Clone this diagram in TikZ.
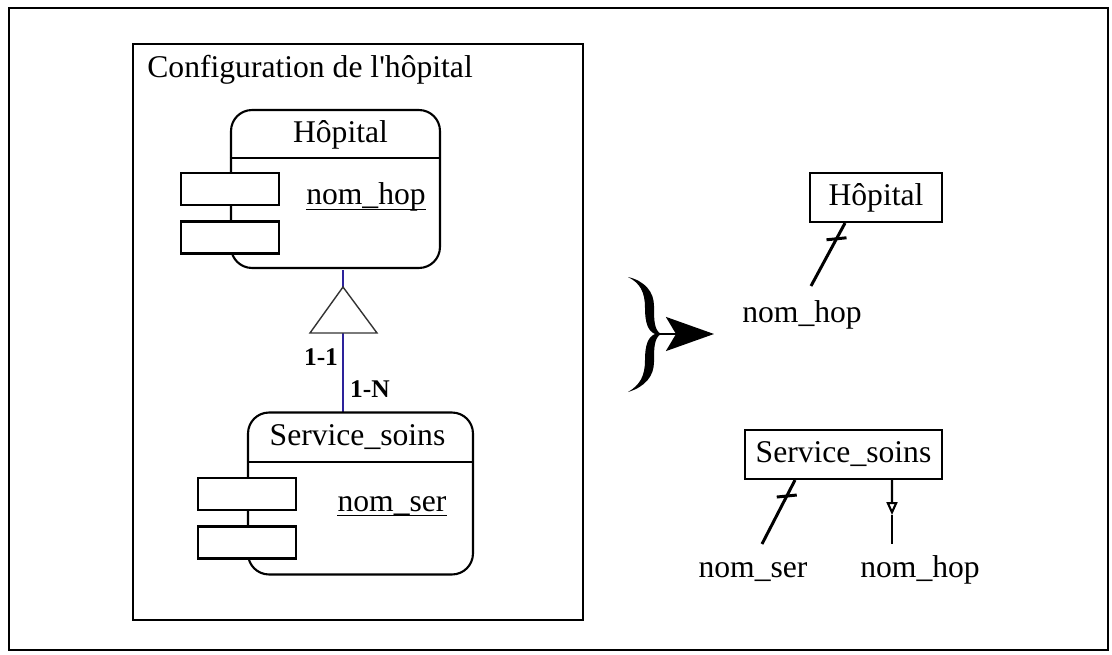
\documentclass[tikz,border=0pt]{standalone}
\usepackage{fontspec}
\setmainfont{Liberation Serif}
\usepackage{xcolor}
\usetikzlibrary{arrows.meta,calc}
\definecolor{linkblue}{RGB}{45,35,155}
\tikzset{
    frame/.style={draw=black, line width=1.3pt},
    entity/.style={rectangle, rounded corners=0.42cm, draw=black, line width=1.2pt, fill=white},
    attrbox/.style={rectangle, draw=black, line width=1.2pt, fill=white, minimum width=1.96cm, minimum height=0.64cm},
    tablebox/.style={rectangle, draw=black, line width=1.2pt, font=\fontsize{18}{20}\selectfont, inner sep=0pt},
    keyline/.style={line width=1.7pt},
    fkline/.style={line width=1.2pt},
    mylabel/.style={font=\fontsize{18}{20}\selectfont, inner sep=0pt},
    card/.style={font=\fontsize{14.5}{16}\selectfont\bfseries, inner sep=0pt}
}

\begin{document}
\begin{tikzpicture}[x=0.02cm, y=-0.02cm]
    \useasboundingbox (0,0) rectangle (1112,655);
    \draw[frame] (9,8) rectangle (1108,650);

    % configuration (left)
    \node[frame, minimum width=9cm, minimum height=11.52cm] (config) at (358,332) {};
    \node[mylabel, anchor=base west] (configtitle) at (147,78) {Configuration de l\textquotesingle hôpital};

    \draw[linkblue, line width=1.2pt] (343,270) coordinate (linktop) -- (343,412) coordinate (linkbot);

    \node[entity, minimum width=4.18cm, minimum height=3.16cm] (hop) at (335.5,189) {};
    \node[mylabel, anchor=base] (hoptitle) at (340.5,143) {Hôpital};
    \draw[line width=1.2pt] (hop.west |- 0,158) -- (hop.east |- 0,158);
    \node[attrbox] (hopa1) at (hop.west |- 0,189) {};
    \node[attrbox] (hopa2) at (hop.west |- 0,237.5) {};
    \node[mylabel, anchor=base] (hopid) at (366,205) {nom\_hop};
    \draw[line width=0.8pt] ([yshift=-2.4pt]hopid.base west) -- ([yshift=-2.4pt]hopid.base east);

    \node[entity, minimum width=4.5cm, minimum height=3.24cm] (ser) at (360.5,493.5) {};
    \node[mylabel, anchor=base] (sertitle) at (357.5,445) {Service\_soins};
    \draw[line width=1.2pt] (ser.west |- 0,462) -- (ser.east |- 0,462);
    \node[attrbox] (sera1) at (ser.west |- 0,494) {};
    \node[attrbox] (sera2) at (ser.west |- 0,542.5) {};
    \node[mylabel, anchor=base] (serid) at (392,511) {nom\_ser};
    \draw[line width=0.8pt] ([yshift=-2.4pt]serid.base west) -- ([yshift=-2.4pt]serid.base east);

    \draw[draw=black!80, line width=0.8pt, fill=white] (343,287) -- (377,333) -- (310,333) -- cycle;
    \node[card] (c11) at (321,357) {1-1};
    \node[card] (c1n) at (370,389) {1-N};

    % brace and arrow
    \fill (628,277) .. controls (645,281) and (654,292) .. (654,306)
        .. controls (654,320) and (654,330) .. (661,334)
        .. controls (654,338) and (654,348) .. (654,362)
        .. controls (654,376) and (645,387) .. (628,392)
        .. controls (640,385) and (645,376) .. (645,360)
        .. controls (645,345) and (648,337) .. (655,334)
        .. controls (648,331) and (645,323) .. (645,308)
        .. controls (645,292) and (640,283) .. (628,277) -- cycle;
    \coordinate (bracemid) at (656,334);
    \coordinate (arrowtip) at (714,334);
    \draw[line width=1.6pt, -{Stealth[length=0.96cm, width=0.68cm, inset=0.2cm]}] (bracemid) -- (arrowtip);

    % tables (right)
    \node[tablebox, minimum width=2.64cm, minimum height=0.98cm] (hop2) at (876,197.5) {Hôpital};
    \node[mylabel, anchor=base] (hopcol) at (802,322) {nom\_hop};
    \coordinate (hopk) at (811,286);
    \draw[keyline] ([xshift=-0.62cm]hop2.south) -- (hopk) coordinate[pos=0.25] (hoptick);
    \draw[keyline] ($(hoptick)+(-10,1)$) -- ($(hoptick)+(10,-1)$);

    \node[tablebox, minimum width=3.94cm, minimum height=0.98cm] (svc2) at (843.5,454.5) {Service\_soins};
    \node[mylabel, anchor=base] (sercol) at (753,577) {nom\_ser};
    \node[mylabel, anchor=base] (fkcol) at (920,577) {nom\_hop};
    \coordinate (serk) at (762,544);
    \draw[keyline] ([xshift=-0.97cm]svc2.south) -- (serk) coordinate[pos=0.25] (sertick);
    \draw[keyline] ($(sertick)+(-10,1)$) -- ($(sertick)+(10,-1)$);
    \coordinate (fkmid) at (892,515);
    \coordinate (fkend) at (892,544);
    \draw[fkline, -{Triangle[open, length=0.26cm, width=0.22cm]}] ([xshift=0.97cm]svc2.south) -- (fkmid);
    \draw[fkline] (fkmid) -- (fkend);
\end{tikzpicture}
\end{document}
